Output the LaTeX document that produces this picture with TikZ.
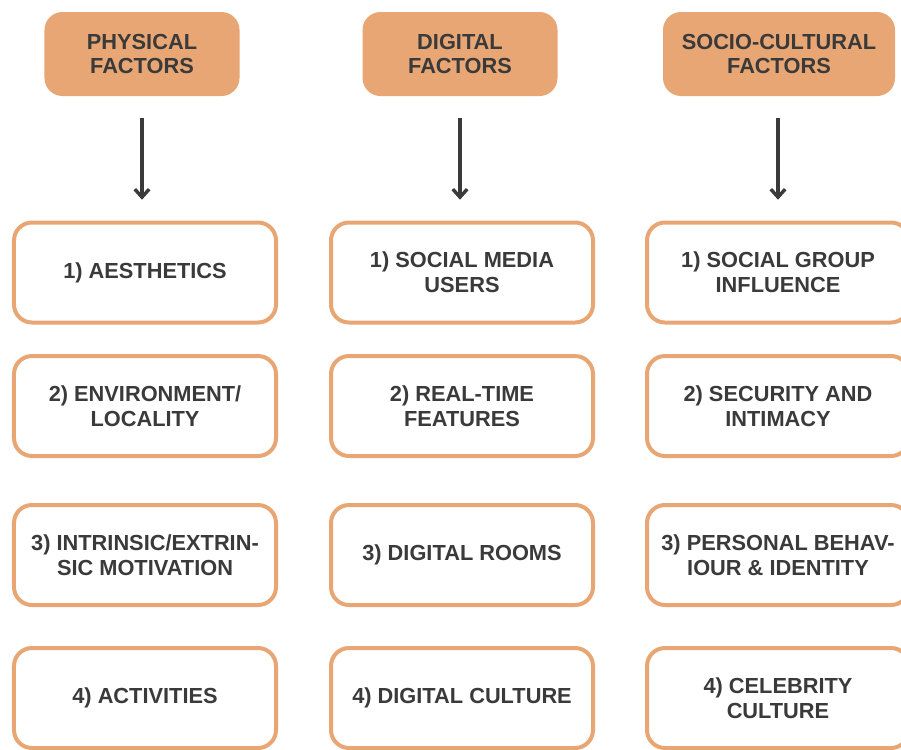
\documentclass[tikz,border=0pt]{standalone}
\usepackage{fontspec}
\setmainfont{Liberation Sans}
\usepackage{tikz}
\usetikzlibrary{arrows.meta}
\definecolor{Sand}{HTML}{E8A674}
\definecolor{InkGray}{HTML}{3A3A3A}
\tikzset{
  every node/.style={font=\fontsize{15.5pt}{17.5pt}\selectfont\bfseries, text=InkGray, align=center},
}
\begin{document}
\begin{tikzpicture}[
  x=0.25mm, y=-0.25mm,
  head/.style={rectangle, rounded corners=4.5mm, fill=Sand, minimum width=48.75mm, minimum height=21mm},
  item/.style={rectangle, rounded corners=4.5mm, draw=Sand, line width=1mm, fill=white, minimum width=65.5mm, minimum height=25mm},
  flow/.style={-{Straight Barb[length=2mm, width=3.6mm, line width=0.85mm]}, draw=InkGray, line width=0.85mm, shorten <=5.5mm, shorten >=5.2mm},
]
\useasboundingbox[fill=white] (0,0) rectangle (901,749);

%% ---- headers ----
\node[head] (hphys) at (142,54) {PHYSICAL\\FACTORS};
\node[head] (hdig) at (460,54) {DIGITAL\\FACTORS};
\node[head, minimum width=58mm] (hsoc) at (779,54) {SOCIO-CULTURAL\\FACTORS};

%% ---- physical column ----
\node[item] (p1) at (145,272.5) {1) AESTHETICS};
\node[item] (p2) at (145,406) {2) ENVIRONMENT/\\LOCALITY};
\node[item] (p3) at (145,555) {3) INTRINSIC/EXTRIN-\\SIC MOTIVATION};
\node[item] (p4) at (145,698) {4) ACTIVITIES};

%% ---- digital column ----
\node[item] (d1) at (462,272.5) {1) SOCIAL MEDIA\\USERS};
\node[item] (d2) at (462,406) {2) REAL-TIME\\FEATURES};
\node[item] (d3) at (462,555) {3) DIGITAL ROOMS};
\node[item] (d4) at (462,698) {4) DIGITAL CULTURE};

%% ---- socio-cultural column ----
\node[item] (s1) at (778,272.5) {1) SOCIAL GROUP\\INFLUENCE};
\node[item] (s2) at (778,406) {2) SECURITY AND\\INTIMACY};
\node[item] (s3) at (778,555) {3) PERSONAL BEHAV-\\IOUR \& IDENTITY};
\node[item] (s4) at (778,698) {4) CELEBRITY\\CULTURE};

%% ---- arrows ----
\draw[flow] (hphys.south) -- (hphys.south |- p1.north);
\draw[flow] (hdig.south) -- (hdig.south |- d1.north);
\draw[flow] (hsoc.south -| s1.north) -- (s1.north);
\end{tikzpicture}
\end{document}
